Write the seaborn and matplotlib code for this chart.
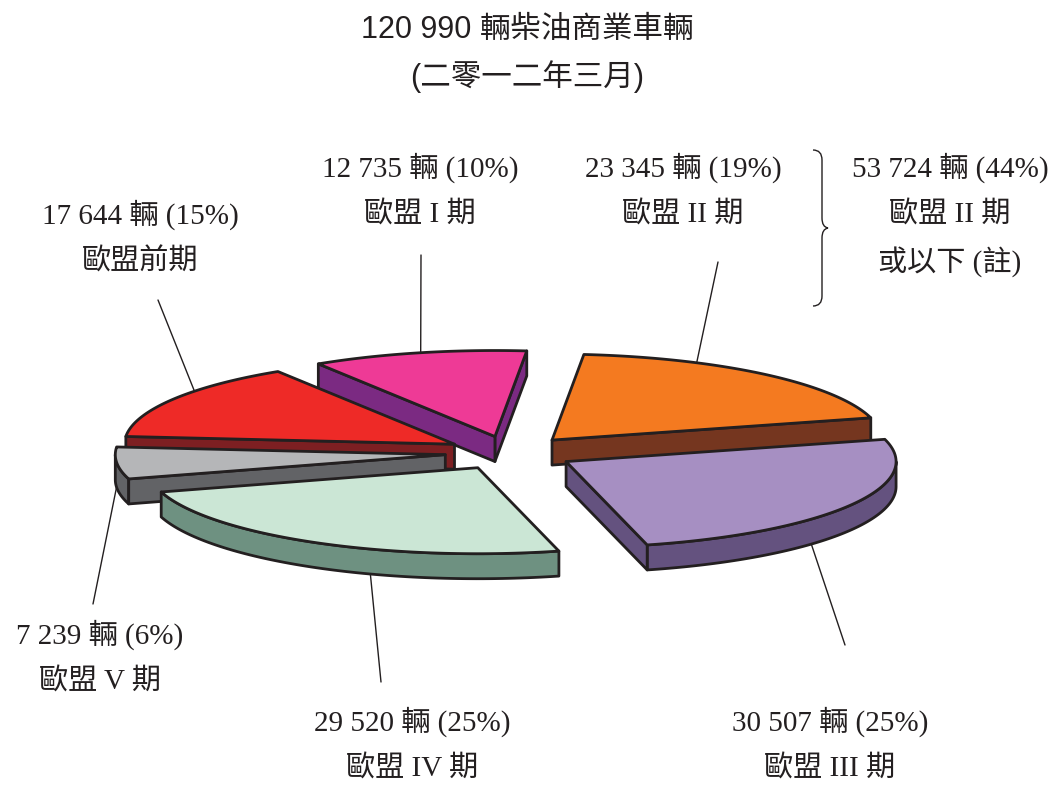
import numpy as np
import matplotlib.pyplot as plt
import seaborn as sns
from matplotlib.patches import Polygon, PathPatch
from matplotlib.path import Path

# slices in counter-clockwise order, starting from the right
stages = ['歐盟 II 期', '歐盟 I 期', '歐盟前期', '歐盟 V 期', '歐盟 IV 期', '歐盟 III 期']
vehicles = [23345, 12735, 17644, 7239, 29520, 30507]
pct_labels = ['19%', '10%', '15%', '6%', '25%', '25%']
total = 120990
group_total = 53724
group_pct = '44%'
title_lines = ['120 990 輛柴油商業車輛', '(二零一二年三月)']

top_colors = sns.color_palette(['#F47A20', '#EE3A96', '#EE2A27', '#B5B6B8', '#CBE6D5', '#A68FC2'])
side_colors = sns.color_palette(['#75361F', '#7B2A82', '#7D1F22', '#626366', '#6E9181', '#64527F'])

# layout of the tilted pie (pixels)
cx, cy = 510, 453
rx, ry = 330, 86
depth = 25
explode = 0.197
start = 15

# label centres, leader line start and anchor angle on the slice
label_xy = [(683, 168), (420, 168), (140, 215), (100, 635), (412, 722), (830, 722)]
leader_from = [(718, 262), (421, 255), (158, 300), (93, 604), (381, 682), (845, 645)]
anchor_deg = [64, 103, 142, 185, 251, 318]

sns.set_theme(style="white")
serif = ['Liberation Serif', 'Noto Sans CJK TC']
sans = ['Liberation Sans', 'Noto Sans CJK TC']
plt.rcParams['font.family'] = serif

fig = plt.figure(figsize=(10.58, 7.85), dpi=100)
ax = fig.add_axes([0, 0, 1, 1])
ax.set_xlim(0, 1058)
ax.set_ylim(785, 0)
ax.axis('off')

edges = start + np.concatenate([[0], np.cumsum(vehicles)]) / total * 360
ec = '#231F20'
lw = 2.0


def arc(t1, t2, ox, oy, dz=0, n=80):
    t = np.radians(np.linspace(t1, t2, n))
    return np.column_stack([ox + rx * np.cos(t), oy - ry * np.sin(t) + dz])


def apex_of(i):
    mid = np.radians((edges[i] + edges[i + 1]) / 2)
    return cx + explode * rx * np.cos(mid), cy - explode * ry * np.sin(mid)


def draw_slice(i):
    t1, t2 = edges[i], edges[i + 1]
    ox, oy = apex_of(i)
    sc = side_colors[i]
    # outer rim facing the viewer
    for lo, hi in [(180, 360), (540, 720)]:
        a, b = max(t1, lo), min(t2, hi)
        if a < b:
            top = arc(a, b, ox, oy)
            bot = arc(a, b, ox, oy, depth)[::-1]
            ax.add_patch(Polygon(np.vstack([top, bot]), closed=True, fc=sc, ec=ec, lw=lw, joinstyle='round'))
    # radial faces
    for t, vis in [(t1, np.cos(np.radians(t1)) > 0), (t2, np.cos(np.radians(t2)) < 0)]:
        if vis:
            p = arc(t, t, ox, oy, n=1)[0]
            face = [(ox, oy), p, (p[0], p[1] + depth), (ox, oy + depth)]
            ax.add_patch(Polygon(face, closed=True, fc=sc, ec=ec, lw=lw, joinstyle='round'))
    # top surface
    top = np.vstack([[(ox, oy)], arc(t1, t2, ox, oy)])
    ax.add_patch(Polygon(top, closed=True, fc=top_colors[i], ec=ec, lw=lw, joinstyle='round'))


mids = [(edges[i] + edges[i + 1]) / 2 for i in range(len(vehicles))]
order = sorted(range(len(vehicles)), key=lambda i: -np.sin(np.radians(mids[i])))

# leader lines first so slices sit on top of them
for i in range(len(vehicles)):
    ox, oy = apex_of(i)
    a = np.radians(anchor_deg[i])
    px, py = ox + rx * np.cos(a), oy - ry * np.sin(a)
    if np.sin(a) < 0:
        py += depth
    ax.plot([leader_from[i][0], px], [leader_from[i][1], py], color=ec, lw=1.0)

for i in order:
    draw_slice(i)

fs = 21
gap = 47
for i in range(len(vehicles)):
    x, y = label_xy[i]
    num = f"{vehicles[i]:,}".replace(',', ' ')
    ax.text(x, y, f"{num} 輛 ({pct_labels[i]})", ha='center', va='center', fontsize=fs, color='#231F20')
    ax.text(x, y + gap, stages[i], ha='center', va='center', fontsize=fs, color='#231F20')

# bracket note for Euro II or below
gx = 950
ax.text(gx, 168, f"{group_total:,}".replace(',', ' ') + f" 輛 ({group_pct})", ha='center', va='center',
        fontsize=fs, color='#231F20')
ax.text(gx, 168 + gap, '歐盟 II 期', ha='center', va='center', fontsize=fs, color='#231F20')
ax.text(gx, 168 + 2 * gap, '或以下 (註)', ha='center', va='center', fontsize=fs, color='#231F20')

verts = [(813, 150), (822, 150), (822, 160), (822, 160),
         (822, 218), (822, 227), (828, 228), (828, 228),
         (822, 229), (822, 238), (822, 238),
         (822, 296), (822, 306), (813, 306)]
codes = [Path.MOVETO, Path.CURVE3, Path.CURVE3, Path.LINETO,
         Path.LINETO, Path.CURVE3, Path.CURVE3, Path.LINETO,
         Path.CURVE3, Path.CURVE3, Path.LINETO,
         Path.LINETO, Path.CURVE3, Path.CURVE3]
ax.add_patch(PathPatch(Path(verts, codes), fc='none', ec=ec, lw=1.0))

ax.text(527, 30, title_lines[0], ha='center', va='center', fontsize=22, family=sans, color='#231F20')
ax.text(527, 77, title_lines[1], ha='center', va='center', fontsize=22, family=sans, color='#231F20')

fig.savefig('out.png', dpi=100)
